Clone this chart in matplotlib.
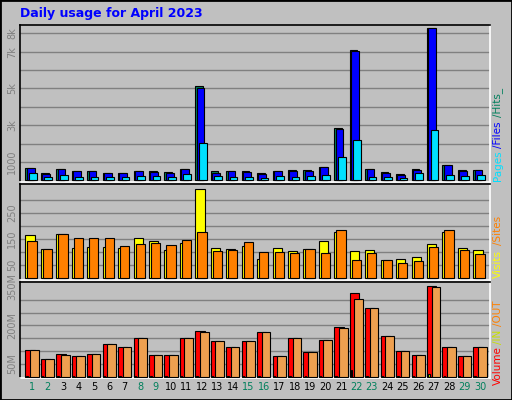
import numpy as np
import matplotlib.pyplot as plt
from matplotlib.patches import Rectangle

days = np.arange(1, 31)
weekend = [1, 2, 8, 9, 15, 16, 22, 23, 29, 30]

hits = [650, 380, 600, 490, 490, 380, 380, 490, 490, 435, 600, 5120, 490, 490, 490,
        380, 490, 545, 545, 710, 2830, 7080, 600, 435, 330, 600, 8270, 820, 545, 545]
files = [650, 330, 600, 490, 490, 380, 380, 490, 460, 380, 600, 5010, 380, 490, 435,
         330, 490, 490, 490, 710, 2780, 7030, 600, 380, 290, 545, 8270, 820, 490, 545]
pages = [380, 180, 270, 160, 160, 160, 160, 220, 220, 160, 330, 2010, 220, 160, 160,
         110, 220, 160, 220, 270, 1250, 2180, 160, 160, 110, 380, 2720, 270, 220, 270]
visits = [164, 110, 168, 114, 118, 118, 114, 152, 141, 106, 133, 342, 114, 110, 121,
          71, 114, 102, 110, 141, 176, 102, 106, 67, 71, 79, 129, 176, 114, 106]
sites = [141, 110, 168, 152, 152, 152, 121, 129, 133, 125, 145, 176, 102, 106, 137,
         98, 98, 94, 110, 94, 183, 67, 94, 67, 56, 63, 118, 183, 106, 90]
volume = [103, 68, 87, 79, 87, 126, 114, 149, 83, 83, 149, 177, 138, 114, 138,
          173, 79, 149, 95, 142, 192, 325, 266, 157, 99, 83, 352, 114, 79, 114]
vol_out = [103, 68, 83, 79, 87, 126, 114, 149, 83, 83, 149, 173, 138, 114, 138,
           173, 79, 149, 95, 142, 188, 301, 266, 157, 99, 83, 348, 114, 79, 114]
vol_in = [2, 2, 2, 2, 2, 2, 2, 2, 2, 2, 2, 2, 2, 2, 2,
          2, 2, 2, 2, 2, 2, 28, 2, 2, 2, 2, 9, 2, 2, 2]

bg = '#c0c0c0'
grid = '#808080'
fig = plt.figure(figsize=(5.12, 4.0), dpi=100, facecolor=bg)
fig.patches.append(Rectangle((0, 0), 1, 1, transform=fig.transFigure, fill=False,
                             edgecolor='black', lw=2))

W, H = 512, 400
def axes_px(x0, y0, x1, y1):
    return fig.add_axes([x0 / W, 1 - y1 / H, (x1 - x0) / W, (y1 - y0) / H])

ax1 = axes_px(20, 25, 490, 182)
ax2 = axes_px(20, 184, 490, 280)
ax3 = axes_px(20, 282, 490, 378)

def bars(ax, vals, off, w, color):
    ax.bar(days + off, vals, width=w, align='edge', color=color,
           edgecolor='black', linewidth=0.8, zorder=3)

bars(ax1, hits, -0.43, 0.5, '#00805c')
bars(ax1, files, -0.34, 0.5, '#0000ff')
bars(ax1, pages, -0.2, 0.5, '#00e0ff')
bars(ax2, visits, -0.43, 0.6, '#ffff00')
bars(ax2, sites, -0.3, 0.6, '#ff8000')
bars(ax3, volume, -0.43, 0.6, '#ff0000')
bars(ax3, vol_in, -0.36, 0.1, '#c8e000')
bars(ax3, vol_out, -0.13, 0.56, '#eea050')

settings = [
    (ax1, (-90, 8450), range(1000, 9000, 1000), [1000, 3000, 5000, 7000, 8000],
     ['1000', '3k', '5k', '7k', '8k']),
    (ax2, (-9, 363), range(50, 350, 50), [50, 150, 250], ['50', '150', '250']),
    (ax3, (-5, 369), range(50, 350, 50), [50, 200, 350], ['50M', '200M', '350M']),
]
for ax, ylim, gl, tks, tls in settings:
    ax.set_facecolor(bg)
    ax.set_xlim(0.22, 30.65)
    ax.set_ylim(*ylim)
    for g in gl:
        ax.axhline(g, color=grid, lw=1, zorder=1)
    ax.set_yticks(tks)
    ax.set_yticklabels(tls, rotation=90, va='center', color=grid, fontsize=7)
    ax.tick_params(axis='y', length=0, pad=2)
    ax.set_xticks([])
    for s in ax.spines.values():
        s.set_color('black')
        s.set_linewidth(1.2)
    ax.spines['right'].set_color('white')
    ax.spines['bottom'].set_color('white')

ax3.set_xticks(days)
ax3.set_xticklabels([str(d) for d in days], fontsize=7)
ax3.tick_params(axis='x', length=0, pad=3)
for lbl, d in zip(ax3.get_xticklabels(), days):
    lbl.set_color('#00805c' if d in weekend else 'black')

fig.text(20 / W, 1 - 13 / H, 'Daily usage for April 2023', color='#0000ff',
         fontsize=9, fontweight='bold', va='center', ha='left')

# right side legends, colored pieces stacked vertically
pieces = [
    ('Pages', '#00e0ff', 181), ('/Files', '#0000ff', 148), ('/Hits_', '#00805c', 117),
    ('Visits', '#ffff00', 278), ('/Sites', '#ff8000', 245),
    ('Volume', '#ff0000', 385), ('/IN', '#c8e000', 344), ('/OUT', '#ff8000', 326),
]
for txt, col, ybot in pieces:
    fig.text(498 / W, 1 - ybot / H, txt, color=col, rotation=90, fontsize=7.5,
             ha='center', va='bottom')

fig.savefig('out.png', dpi=100, facecolor=bg)
